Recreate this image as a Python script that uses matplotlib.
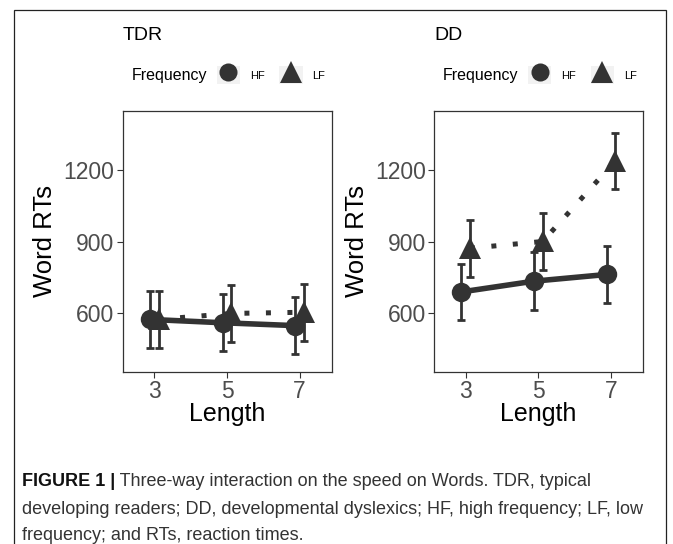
import matplotlib
matplotlib.use('Agg')
import matplotlib.pyplot as plt
from matplotlib.lines import Line2D
from matplotlib.patches import Patch, Rectangle
from matplotlib.legend_handler import HandlerTuple

# ---------------- data ----------------
lengths = [3, 5, 7]
groups = ['TDR', 'DD']
freq_labels = ['HF', 'LF']
tdr_hf_mean = [575, 561, 549]
tdr_hf_err = [120, 120, 120]
tdr_lf_mean = [575, 600, 605]
tdr_lf_err = [120, 118, 120]
dd_hf_mean = [690, 735, 763]
dd_hf_err = [118, 120, 119]
dd_lf_mean = [873, 901, 1238]
dd_lf_err = [120, 120, 119]
y_ticks = [600, 900, 1200]
x_ticks = [3, 5, 7]
caption_bold = "FIGURE 1 |"
caption_lines = [
    " Three-way interaction on the speed on Words. TDR, typical",
    "developing readers; DD, developmental dyslexics; HF, high frequency; LF, low",
    "frequency; and RTs, reaction times.",
]

data = {
    'TDR': {'HF': (tdr_hf_mean, tdr_hf_err), 'LF': (tdr_lf_mean, tdr_lf_err)},
    'DD': {'HF': (dd_hf_mean, dd_hf_err), 'LF': (dd_lf_mean, dd_lf_err)},
}

# ---------------- style ----------------
W, H = 673, 544
plt.rcParams['font.family'] = ['Liberation Sans', 'DejaVu Sans']
DARK = '#333333'
fig = plt.figure(figsize=(W / 100, H / 100), dpi=100)

def fx(px):
    return px / W

def fy(py):
    return 1 - py / H

ax_w = (332 - 122.7) / W
ax_h = (372 - 111) / H
panel_left_px = [122.7, 434.0]
dodge = {'HF': -0.12, 'LF': 0.12}
markers = {'HF': ('o', 14.0), 'LF': ('^', 16.5)}
legend_ms = {'HF': 13.0, 'LF': 16.5}

# figure border
fig.patches.append(Rectangle((fx(14), -0.02), fx(666) - fx(14), fy(10) + 0.02,
                             transform=fig.transFigure, fill=False,
                             edgecolor='#222222', linewidth=0.9))

for g, lp in zip(groups, panel_left_px):
    ax = fig.add_axes([fx(lp), fy(372), ax_w, ax_h])
    for f in freq_labels:
        mean, err = data[g][f]
        xs = [x + dodge[f] for x in lengths]
        if f == 'HF':
            ax.plot(xs, mean, color=DARK, lw=4.0, solid_capstyle='butt', zorder=2)
        else:
            ax.plot(xs, mean, color=DARK, lw=3.6, dashes=(1, 3.3),
                    dash_capstyle='butt', zorder=2)
    for f in freq_labels:
        mean, err = data[g][f]
        xs = [x + dodge[f] for x in lengths]
        ax.errorbar(xs, mean, yerr=err, fmt='none', ecolor=DARK, elinewidth=2.0,
                    capsize=2.8, capthick=2.0, zorder=3)
        m, ms = markers[f]
        ax.plot(xs, mean, linestyle='none', marker=m, markersize=ms,
                color=DARK, markeredgewidth=0, zorder=4)
    ax.set_xlim(2.13, 7.89)
    ax.set_ylim(355, 1447)
    ax.set_xticks(x_ticks)
    ax.set_yticks(y_ticks)
    ax.tick_params(axis='both', labelsize=16.5, labelcolor='#4D4D4D', color=DARK,
                   length=4, width=0.8, pad=2)
    for s in ax.spines.values():
        s.set_color(DARK)
        s.set_linewidth(0.9)
    # axis labels
    fig.text(fx(lp + ax_w * W / 2), fy(414), 'Length', ha='center', va='center',
             fontsize=18, color='black')
    fig.text(fx(lp - 77.5), fy(241.5), 'Word RTs', ha='center', va='center',
             rotation=90, fontsize=18.5, color='black')
    # title
    fig.text(fx(lp), fy(35), g, ha='left', va='center', fontsize=14, color='black')
    # legend
    fig.text(fx(lp + 9), fy(75), 'Frequency', ha='left', va='center',
             fontsize=11.5, color='black')
    handles = []
    for f in freq_labels:
        m, _ = markers[f]
        handles.append((Patch(facecolor='#F2F2F2', edgecolor='none'),
                        Line2D([], [], linestyle='none', marker=m,
                               markersize=legend_ms[f], color=DARK,
                               markeredgewidth=0)))
    fig.legend(handles, freq_labels,
               handler_map={tuple: HandlerTuple(ndivide=1, pad=0)},
               ncol=2, loc='center left',
               bbox_to_anchor=(fx(lp + 94), fy(75)), bbox_transform=fig.transFigure,
               frameon=False, fontsize=8, handlelength=2.1, handleheight=2.1,
               handletextpad=0.9, columnspacing=1.3, borderpad=0, borderaxespad=0)

# ---------------- caption ----------------
cap_family = ['Liberation Sans', 'DejaVu Sans']
cap_size = 13.0
line_y = [481, 509, 536]
renderer = fig.canvas.get_renderer()
tb = fig.text(fx(22), fy(line_y[0]), caption_bold, ha='left', va='center',
              fontsize=cap_size, fontweight='bold', family=cap_family, color='#111111')
bb = tb.get_window_extent(renderer=renderer)
fig.text(bb.x1 / W, fy(line_y[0]), caption_lines[0], ha='left', va='center',
         fontsize=cap_size, family=cap_family, color='#333333')
for txt, yy in zip(caption_lines[1:], line_y[1:]):
    fig.text(fx(22), fy(yy), txt, ha='left', va='center',
             fontsize=cap_size, family=cap_family, color='#333333')

fig.savefig('out.png', dpi=100)
